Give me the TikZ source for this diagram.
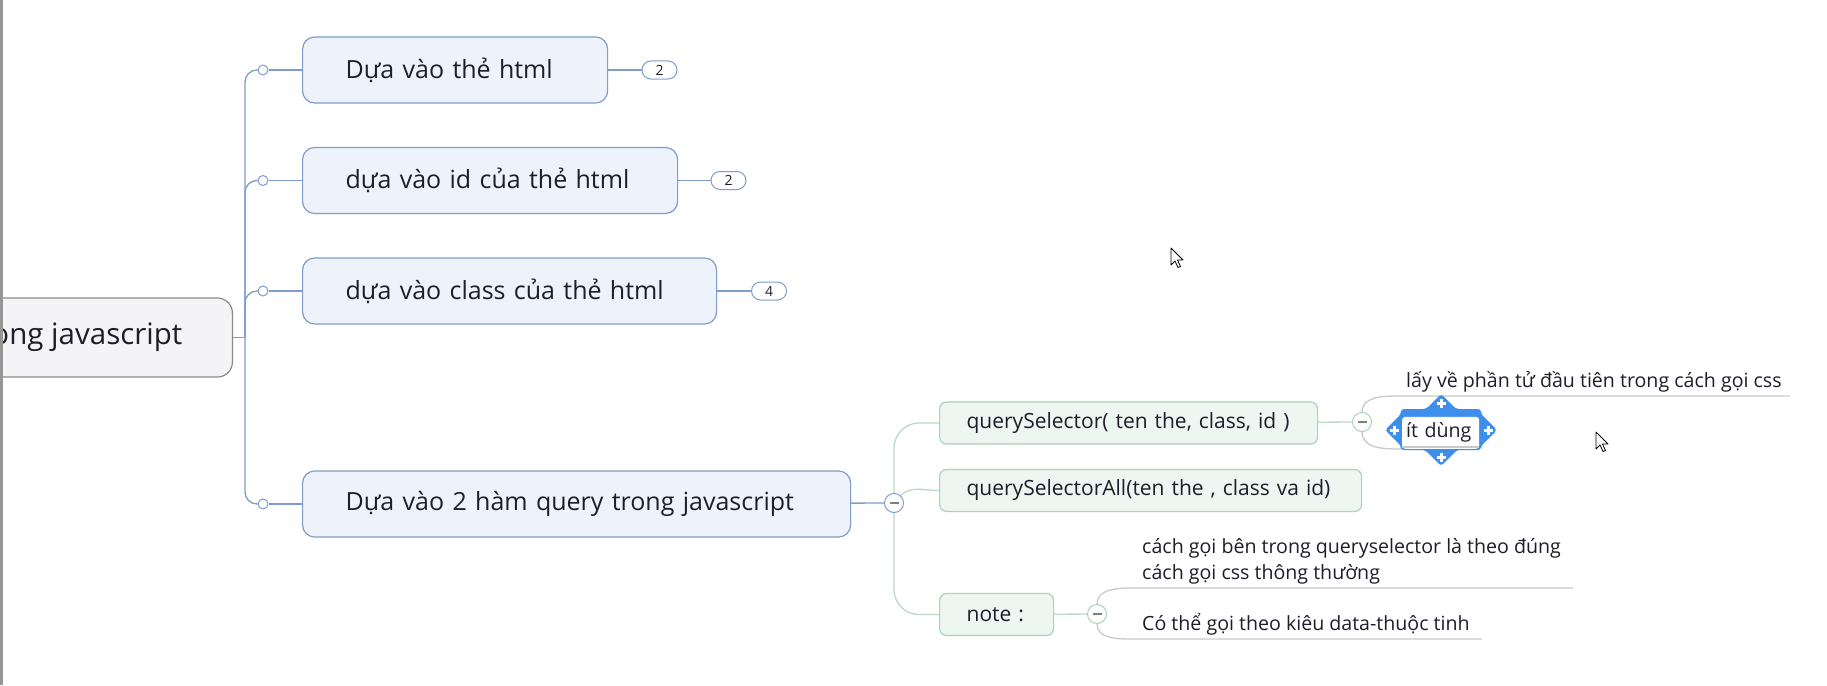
\documentclass[tikz,border=0pt]{standalone}
\usepackage{fontspec}
\setmainfont{Open Sans}
\usetikzlibrary{positioning}
\pgfdeclarelayer{bg}
\pgfsetlayers{bg,main}

\definecolor{ink}{RGB}{30,30,42}
\definecolor{bluefill}{RGB}{238,243,251}
\definecolor{blueline}{RGB}{126,157,203}
\definecolor{rootfill}{RGB}{244,244,246}
\definecolor{rootline}{RGB}{138,138,140}
\definecolor{greenfill}{RGB}{237,246,240}
\definecolor{greenline}{RGB}{170,210,182}
\definecolor{greenconn}{RGB}{188,216,198}
\definecolor{topicline}{RGB}{200,202,204}
\definecolor{selblue}{RGB}{62,143,235}
\definecolor{edgegray}{RGB}{150,150,150}

\tikzset{
  rootbox/.style={draw=rootline, fill=rootfill, line width=1.2pt, rounded corners=15pt, inner xsep=50pt, minimum height=79pt, text=ink, font=\fontsize{29.5}{34}\selectfont},
  mainbox/.style={draw=blueline, fill=bluefill, line width=1.2pt, rounded corners=12pt, minimum height=66pt, inner xsep=43pt, align=left, text=ink, font=\fontsize{25}{30}\selectfont, anchor=west},
  subbox/.style={draw=greenline, fill=greenfill, line width=1.2pt, rounded corners=7pt, minimum height=42pt, inner xsep=27pt, align=left, text=ink, font=\fontsize{21}{25}\selectfont, anchor=west},
  badge/.style={draw=blueline, fill=white, line width=1pt, rounded corners=9pt, minimum width=35pt, minimum height=18pt, inner sep=0pt, text=ink, font=\fontsize{14}{16}\selectfont},
  knob/.style={circle, draw=blueline, fill=white, line width=1pt, minimum size=10pt, inner sep=0pt},
  fold/.style={circle, draw=#1, fill=white, line width=1pt, minimum size=19pt, inner sep=0pt,
    path picture={\draw[gray, line width=1.2pt] ([xshift=-4.5pt]path picture bounding box.center) -- ([xshift=4.5pt]path picture bounding box.center);}},
  topic/.style={anchor=south west, inner xsep=10pt, inner ysep=4pt, align=left, text=ink, font=\fontsize{19.6}{26}\selectfont},
  bline/.style={draw=blueline, line width=1.3pt},
  gline/.style={draw=greenconn, line width=1.3pt},
  tline/.style={draw=topicline, line width=1.3pt},
  pointer/.style={fill=white, draw=black, line width=0.8pt, line join=round}
}

\begin{document}
\begin{tikzpicture}[x=1pt,y=-1pt]
\useasboundingbox (0,0) rectangle (1827,685);
\clip (0,0) rectangle (1827,685);

\node[rootbox, anchor=east] (root) at (233,337.5) {ong javascript};
\coordinate (trunk) at (245,337.5);

\node[knob] (k1) at (263,70) {};
\node[knob] (k2) at (263,180.5) {};
\node[knob] (k3) at (263,291) {};
\node[knob] (k4) at (263,504) {};

\node[mainbox, text width=219pt] (b1) at (302,70) {Dựa vào thẻ html};
\node[mainbox, text width=289pt] (b2) at (302,180.5) {dựa vào id của thẻ html};
\node[mainbox, text width=328pt] (b3) at (302,291) {dựa vào class của thẻ html};
\node[mainbox, text width=462pt] (b4) at (302,504) {Dựa vào 2 hàm query trong javascript};

\node[badge] (a1) at (659.5,70) {2};
\node[badge] (a2) at (728.5,180.5) {2};
\node[badge] (a3) at (769,291) {4};

\node[fold=blueline] (f4) at (894,503) {};

\node[subbox, text width=324pt] (q1) at (939,423) {querySelector( ten the, class, id )};
\node[subbox, text width=368pt] (q2) at (939,490.5) {querySelectorAll(ten the , class va id)};
\node[subbox, text width=60pt] (q3) at (939,614.5) {note :};

\node[fold=greenline] (f1) at (1362,422) {};
\node[fold=greenline] (f3) at (1097,614) {};

\coordinate (sel) at (1441,431);
\begin{scope}[shift={(sel)}]
\fill[selblue, rounded corners=3pt] (-40,-22) -- (-15,-22) -- (0,-37) -- (15,-22) -- (40,-22) -- (40,-17) -- (56,-1) -- (40,15) -- (40,19) -- (16,19) -- (0,35) -- (-16,19) -- (-40,19) -- (-40,15) -- (-56,-1) -- (-40,-17) -- cycle;
\foreach \x/\y in {0/-28,0/26,-47/-1,47/-1}
  \draw[white, line width=3pt] (\x-4.5,\y) -- (\x+4.5,\y) (\x,\y-4.5) -- (\x,\y+4.5);
\end{scope}

\node[topic, fill=white, rounded corners=3pt, inner xsep=4pt, text width=69pt, minimum height=32pt] (t2) at (1402,449) {ít dùng};
\draw[tline] ([yshift=2pt]t2.south west) -- ([yshift=2pt]t2.south east);

\node[topic, inner xsep=8pt] (t1) at (1398,396) {lấy về phần tử đầu tiên trong cách gọi css};
\node[topic, inner xsep=12pt] (t3) at (1130,588) {cách gọi bên trong queryselector là theo đúng\\cách gọi css thông thường};
\node[topic, inner xsep=12pt] (t4) at (1130,639) {Có thể gọi theo kiêu data-thuộc tinh};

\begin{pgfonlayer}{bg}
\fill[white] (0,0) rectangle (1827,685);
\draw[bline] (root.east) -- (trunk);
\foreach \k in {k1,k2,k3,k4}
  \draw[bline, rounded corners=12pt] (trunk) |- (\k);
\draw[bline] (k1) -- (b1);
\draw[bline] (k2) -- (b2);
\draw[bline] (k3) -- (b3);
\draw[bline] (k4) -- (b4);
\draw[bline] (b1) -- (a1);
\draw[bline] (b2) -- (a2);
\draw[bline] (b3) -- (a3);
\draw[bline] (b4) -- (f4);
\draw[gline, rounded corners=25pt] (f4) |- (q1);
\draw[gline] (f4.50) to[out=40,in=180] (q2.west);
\draw[gline, rounded corners=25pt] (f4) |- (q3);
\draw[gline] (q1) -- (f1);
\draw[gline] (q3) -- (f3);
\draw[tline] (f1.north) to[out=90,in=180] (t1.south west) -- (t1.south east);
\draw[tline] (f1.south) to[out=-90,in=180] (t2.south west);
\draw[tline] (f3.north) to[out=90,in=180] (t3.south west) -- (t3.south east);
\draw[tline] (f3.south) to[out=-90,in=180] (t4.south west) -- (t4.south east);
\end{pgfonlayer}

\draw[pointer] (1171,248) -- ++(0,17) -- ++(4,-4) -- ++(3,6.5) -- ++(2.5,-1) -- ++(-3,-6.5) -- ++(5.5,0) -- cycle;
\draw[pointer] (1596,432) -- ++(0,17) -- ++(4,-4) -- ++(3,6.5) -- ++(2.5,-1) -- ++(-3,-6.5) -- ++(5.5,0) -- cycle;

\draw[edgegray, line width=3pt] (1.5,0) -- (1.5,685);
\end{tikzpicture}
\end{document}
